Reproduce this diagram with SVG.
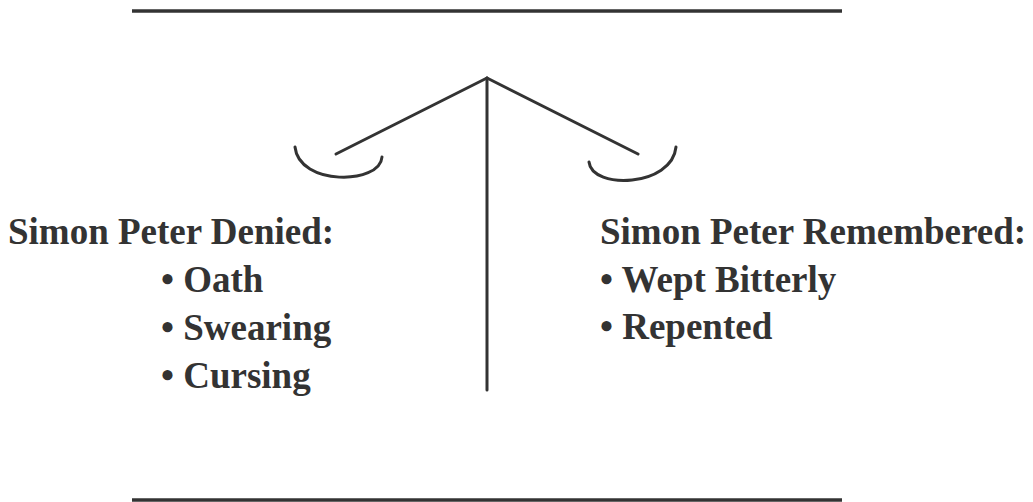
<svg xmlns="http://www.w3.org/2000/svg" width="1033" height="502" viewBox="0 0 1033 502">
<style>
.ln{stroke:#333;stroke-width:3.5;fill:none;stroke-linecap:butt}
.sc{stroke:#333;stroke-width:3;fill:none;stroke-linecap:round}
.t{font-family:"Liberation Serif","Times New Roman",serif;font-weight:bold;font-size:37px;fill:#333}
</style>
<rect width="1033" height="502" fill="#fff"/>
<g id="rules">
<line class="ln" x1="132" y1="11" x2="842" y2="11"/>
<line class="ln" x1="132" y1="500" x2="842" y2="500"/>
</g>
<g id="connectors">
<line class="sc" x1="487" y1="78" x2="487" y2="390"/>
<line class="sc" x1="487" y1="78" x2="336" y2="154"/>
<line class="sc" x1="487" y1="78" x2="638" y2="154"/>
</g>
<g id="left-pan">
<path class="sc" d="M295,147 C299,186 380,185 382,157"/>
</g>
<g id="right-pan">
<path class="sc" d="M589,162 C592,190 672,187 676,147"/>
</g>
<g id="left-list">
<text class="t" x="8" y="244">Simon Peter Denied:</text>
<text class="t" x="161" y="292">• Oath</text>
<text class="t" x="161" y="340">• Swearing</text>
<text class="t" x="161" y="388">• Cursing</text>
</g>
<g id="right-list">
<text class="t" x="600" y="244">Simon Peter Remembered:</text>
<text class="t" x="600" y="292">• Wept Bitterly</text>
<text class="t" x="600" y="339">• Repented</text>
</g>
</svg>
